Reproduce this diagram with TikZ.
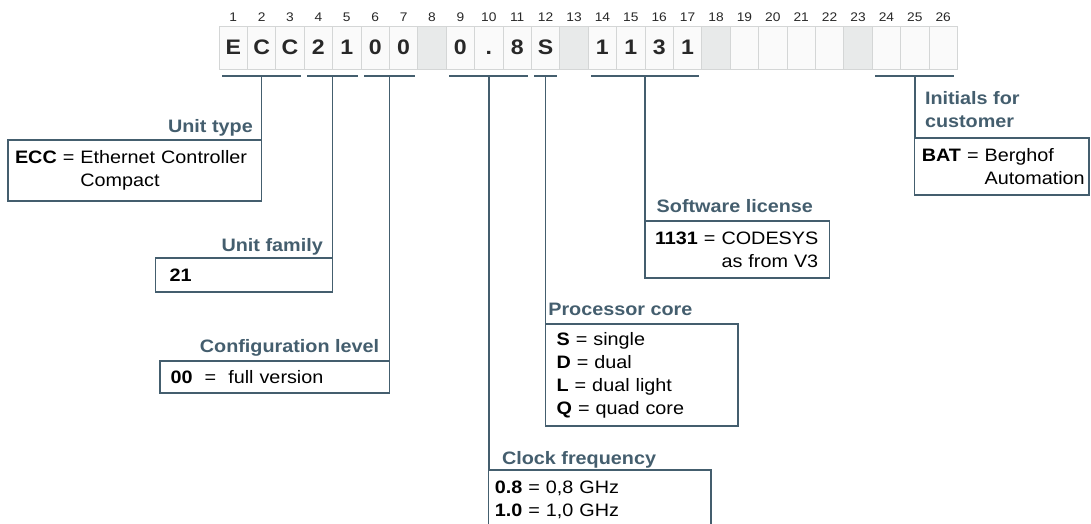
\documentclass[tikz,border=0pt]{standalone}
\usepackage{fontspec}
\setmainfont[FakeStretch=1.1]{Liberation Sans}
\usetikzlibrary{calc}
\definecolor{slate}{RGB}{68,94,110}
\definecolor{cellline}{RGB}{212,214,214}
\definecolor{cellgray}{RGB}{232,234,234}
\definecolor{celltext}{RGB}{40,40,40}
\tikzset{
  cellw/.style={draw=cellline, line width=0.8pt, fill=white!98!black,
    minimum width=28.4, minimum height=43, inner sep=0, outer sep=0,
    text height=15, text depth=0, text=celltext,
    font=\fontsize{21}{21}\selectfont\bfseries},
  cellg/.style={cellw, fill=cellgray},
  num/.style={inner sep=0, text=celltext, font=\fontsize{12.5}{13}\selectfont},
  bracket/.style={draw=slate, line width=1.4pt},
  lbl/.style={inner sep=0, text=slate, font=\fontsize{18}{23}\selectfont\bfseries},
  infobox/.style n args={3}{draw=slate, line width=1.3pt, fill=white,
    minimum width=#1, minimum height=#2, text width=#3,
    inner xsep=0, inner ysep=0, outer sep=0, align=left,
    font=\fontsize{18}{23}\selectfont, text=black}
}
\begin{document}
\begin{tikzpicture}[x=1pt, y=-1pt]
  \useasboundingbox (0,0) rectangle (1091,524);
  \clip (0,0) rectangle (1091,524);
  % code cells with position numbers
  \foreach \i/\ch/\sty in {1/E/cellw, 2/C/cellw, 3/C/cellw, 4/2/cellw, 5/1/cellw,
      6/0/cellw, 7/0/cellw, 8/{}/cellg, 9/0/cellw, 10/./cellw, 11/8/cellw,
      12/S/cellw, 13/{}/cellg, 14/1/cellw, 15/1/cellw, 16/3/cellw, 17/1/cellw,
      18/{}/cellg, 19/{}/cellw, 20/{}/cellw, 21/{}/cellw, 22/{}/cellw,
      23/{}/cellg, 24/{}/cellw, 25/{}/cellw, 26/{}/cellw} {
    \node[\sty] (c\i) at ({219+(\i-0.5)*28.4}, 47.5) {\ch};
    \node[num, anchor=base] (n\i) at ($(c\i.north)+(0,-4.3)$) {\i};
  }
  % brackets under the groups
  \foreach \from/\to/\name in {1/3/ut, 4/5/uf, 6/7/cl, 9/11/cf, 12/12/pc, 14/17/sl, 24/26/ic} {
    \coordinate (\name l) at ($(c\from.south west)+(3,7)$);
    \coordinate (\name r) at ($(c\to.south east)+(-3,7)$);
    \coordinate (\name m) at ($(\name l)!0.5!(\name r)$);
    \draw[bracket] (\name l) -- (\name r);
  }

  % unit type
  \path (utm) ++(0,64) node[infobox={253.6}{61}{239.6}, anchor=north east] (ut)
    {\textbf{ECC} = Ethernet Controller\\\hphantom{\textbf{ECC} = }Compact};
  \node[lbl, anchor=base east] (utlab) at ($(ut.north east)+(-8.6,-8)$) {Unit type};
  \draw[bracket] (utm) -- (ut.north east);

  % unit family
  \path (ufm) ++(0,182) node[infobox={177}{34}{149}, anchor=north east] (uf) {\textbf{21}};
  \node[lbl, anchor=base east] (uflab) at ($(uf.north east)+(-9.6,-7)$) {Unit family};
  \draw[bracket] (ufm) -- (uf.north east);

  % configuration level
  \path (clm) ++(0,285) node[infobox={229.4}{32}{208}, anchor=north east] (cl)
    {\textbf{00}\hspace{12pt}=\hspace{12pt}full version};
  \node[lbl, anchor=base east] (cllab) at ($(cl.north east)+(-10,-9)$) {Configuration level};
  \draw[bracket] (clm) -- (cl.north east);

  % clock frequency
  \path (cfm) ++(0,394) node[infobox={222.2}{59}{210.2}, anchor=north west] (cf)
    {\textbf{0.8} = 0,8 GHz\\\textbf{1.0} = 1,0 GHz};
  \node[lbl, anchor=base west] (cflab) at ($(cf.north west)+(13,-6)$) {Clock frequency};
  \draw[bracket] (cfm) -- (cf.north west);

  % processor core
  \path (pcm) ++(0,248) node[infobox={192.4}{102}{170.4}, anchor=north west] (pc)
    {\textbf{S} = single\\\textbf{D} = dual\\\textbf{L} = dual light\\\textbf{Q} = quad core};
  \node[lbl, anchor=base west] (pclab) at ($(pc.north west)+(2.5,-9)$) {Processor core};
  \draw[bracket] (pcm) -- (pc.north west);

  % software license
  \path (slm) ++(0,145) node[infobox={184.8}{57}{164.8}, anchor=north west] (sl)
    {\textbf{1131} = CODESYS\\\hphantom{\textbf{1131} = }as from V3};
  \node[lbl, anchor=base west] (sllab) at ($(sl.north west)+(11.5,-9)$) {Software license};
  \draw[bracket] (slm) -- (sl.north west);

  % initials for customer
  \path (icm) ++(0,62) node[infobox={174.2}{57}{160.2}, anchor=north west] (ic)
    {\textbf{BAT} = Berghof\\\hphantom{\textbf{BAT} = }Automation};
  \node[lbl, anchor=south west, align=left] (iclab) at ($(ic.north west)+(10,-10)$) {Initials for\\customer};
  \draw[bracket] (icm) -- (ic.north west);
\end{tikzpicture}
\end{document}
